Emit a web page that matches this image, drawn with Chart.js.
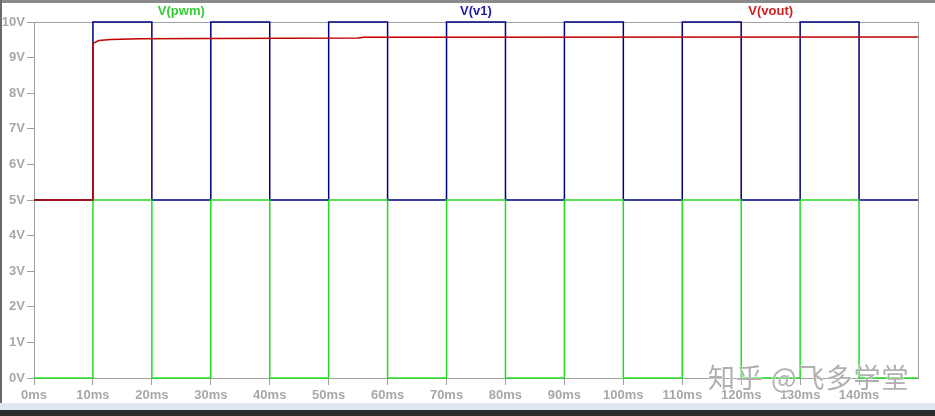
<!DOCTYPE html>
<html>
<head>
<meta charset="utf-8">
<script src="https://cdn.jsdelivr.net/npm/chart.js@4/dist/chart.umd.min.js"></script>
<style>
  html, body { margin: 0; padding: 0; background: #fff; }
  body { width: 935px; height: 416px; position: relative; overflow: hidden; font-family: "Liberation Sans", Arial, sans-serif; }
  #topbar { position: absolute; left: 0; top: 0; width: 935px; height: 3px; background: #8a8a8a; }
  #leftbar { position: absolute; left: 0; top: 0; width: 2px; height: 403px; background: #6a6a6a; }
  #bottomlight { position: absolute; left: 0; top: 403px; width: 935px; height: 7px; background: #dfe7f1; }
  #bottomdark { position: absolute; left: 0; top: 410px; width: 935px; height: 6px; background: #2b2b2b; }
  #wrap { position: absolute; left: 2px; top: 3px; width: 933px; height: 400px; }
  #wm { position: absolute; left: 708px; top: 357px; font-family: "Noto Sans CJK SC", sans-serif; font-size: 27px; color: rgba(150,150,150,0.75); letter-spacing: 1px; white-space: nowrap; text-shadow: 0 0 2px #fff, 0 0 1px #fff; }
</style>
</head>
<body>
<div id="topbar"></div>
<div id="leftbar"></div>
<div id="wrap"><canvas id="c"></canvas></div>
<div id="bottomlight"></div>
<div id="bottomdark"></div>
<div id="wm">知乎 @飞多学堂</div>
<script>
// ---- data ----
const xTicksMs = [0,10,20,30,40,50,60,70,80,90,100,110,120,130,140];
const yTicksV = [0,1,2,3,4,5,6,7,8,9,10];

const edgeTimes = [0,10,20,30,40,50,60,70,80,90,100,110,120,130,140,150];
const pwmValues = [0,5,0,5,0,5,0,5,0,5,0,5,0,5,0,0];
const v1Values  = [5,10,5,10,5,10,5,10,5,10,5,10,5,10,5,5];

const voutTimes  = [0,10,10,11,13,18,30,55,56,150];
const voutValues = [5,5,9.40,9.48,9.51,9.53,9.54,9.55,9.57,9.58];

const labels = ['V(pwm)','V(v1)','V(vout)'];
const colors = { pwm: '#22dd22', v1: '#000080', vout: '#c00000' };
const labelColors = { pwm: '#33cc33', v1: '#2020a8', vout: '#d02020' };

const toPts = (t, v) => t.map((x, i) => ({ x: x, y: v[i] }));

const frame = {
  id: 'frame',
  beforeDatasetsDraw(chart) {
    const a = chart.chartArea, ctx = chart.ctx;
    ctx.save();
    ctx.strokeStyle = '#a0a0a0';
    ctx.lineWidth = 1;
    ctx.strokeRect(Math.round(a.left) + 0.5, Math.round(a.top) + 0.5, Math.round(a.right - a.left), Math.round(a.bottom - a.top));
    ctx.font = 'bold 13px "Liberation Sans", Arial, sans-serif';
    ctx.textAlign = 'center';
    ctx.textBaseline = 'middle';
    const order = [['pwm', 1/6], ['v1', 1/2], ['vout', 5/6]];
    order.forEach(([k, f], i) => {
      ctx.fillStyle = labelColors[k];
      ctx.fillText(labels[i], a.left + (a.right - a.left) * f, 8);
    });
    ctx.restore();
  }
};

new Chart(document.getElementById('c'), {
  type: 'line',
  data: {
    datasets: [
      { label: labels[2], data: toPts(voutTimes, voutValues), borderColor: colors.vout, borderWidth: 1.5, pointRadius: 0, tension: 0, clip: 4 },
      { label: labels[0], data: toPts(edgeTimes, pwmValues), borderColor: colors.pwm, borderWidth: 1.5, pointRadius: 0, stepped: true, clip: 4 },
      { label: labels[1], data: toPts(edgeTimes, v1Values), borderColor: colors.v1, borderWidth: 1.5, pointRadius: 0, stepped: true, clip: 4 }
    ]
  },
  options: {
    responsive: true,
    maintainAspectRatio: false,
    animation: false,
    events: [],
    layout: { padding: { left: 0, right: 17, top: 19, bottom: 0 } },
    plugins: { legend: { display: false }, tooltip: { enabled: false } },
    scales: {
      x: {
        type: 'linear', min: 0, max: 150,
        afterBuildTicks(s) { s.ticks = xTicksMs.map(v => ({ value: v })); },
        afterFit(s) { s.height = 25; },
        grid: { drawOnChartArea: false, tickLength: 7, color: '#a0a0a0' },
        border: { color: '#a0a0a0' },
        ticks: { color: '#a8a8a8', padding: 3, maxRotation: 0, autoSkip: false, font: { family: '"Liberation Sans", Arial, sans-serif', size: 13, weight: 'bold' }, callback: v => v + 'ms' }
      },
      y: {
        type: 'linear', min: 0, max: 10,
        afterBuildTicks(s) { s.ticks = yTicksV.map(v => ({ value: v })); },
        afterFit(s) { s.width = 32; },
        grid: { drawOnChartArea: false, tickLength: 7, color: '#a0a0a0' },
        border: { color: '#a0a0a0' },
        ticks: { color: '#a8a8a8', padding: 2, autoSkip: false, font: { family: '"Liberation Sans", Arial, sans-serif', size: 13, weight: 'bold' }, callback: v => v + 'V' }
      }
    }
  },
  plugins: [frame]
});
</script>
</body>
</html>
